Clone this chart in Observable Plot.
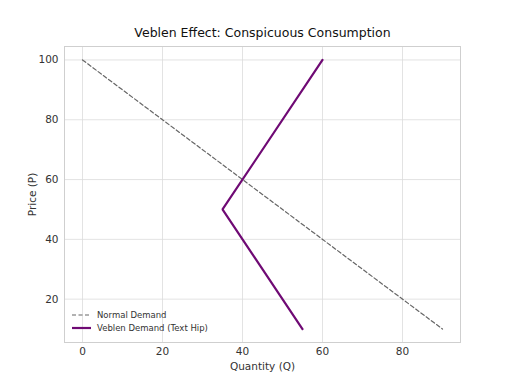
<!DOCTYPE html>
<html>
<head>
<meta charset="utf-8">
<script src="https://cdn.jsdelivr.net/npm/d3@7"></script>
<script src="https://cdn.jsdelivr.net/npm/@observablehq/plot@0.6"></script>
<style>
  html, body { margin: 0; padding: 0; background: #fff; }
  #chart { width: 512px; height: 384px; }
</style>
</head>
<body>
<div id="chart"></div>
<script>
const titleText = "Veblen Effect: Conspicuous Consumption";
const xLabel = "Quantity (Q)";
const yLabel = "Price (P)";

const normalQ = [0, 90];
const normalP = [100, 10];
const normalName = "Normal Demand";

const veblenQ = [55, 35, 60];
const veblenP = [10, 50, 100];
const veblenName = "Veblen Demand (Text Hip)";

const xTicks = [0, 20, 40, 60, 80];
const yTicks = [20, 40, 60, 80, 100];

const normal = normalQ.map((q, i) => ({q, p: normalP[i]}));
const veblen = veblenQ.map((q, i) => ({q, p: veblenP[i]}));

const font = "DejaVu Sans, sans-serif";

const plot = Plot.plot({
  width: 512,
  height: 384,
  marginLeft: 64,
  marginRight: 52,
  marginTop: 46,
  marginBottom: 42,
  style: {fontFamily: font, fontSize: "10px", color: "#333", background: "#fff"},
  x: {domain: [-4.5, 94.5]},
  y: {domain: [5.5, 104.5]},
  marks: [
    Plot.gridX(xTicks, {stroke: "#dcdcdc", strokeOpacity: 1, strokeWidth: 0.8}),
    Plot.gridY(yTicks, {stroke: "#dcdcdc", strokeOpacity: 1, strokeWidth: 0.8}),
    Plot.frame({stroke: "#cfcfcf", strokeWidth: 1}),
    Plot.axisX({ticks: xTicks, tickSize: 0, tickPadding: 5, fontSize: 10.5,
      label: xLabel, labelAnchor: "center", labelOffset: 27, labelArrow: "none"}),
    Plot.axisY({ticks: yTicks, tickSize: 0, tickPadding: 6, fontSize: 10.5,
      label: yLabel, labelAnchor: "center", labelOffset: 36, labelArrow: "none"}),
    Plot.line(normal, {x: "q", y: "p", stroke: "#666", strokeWidth: 1.2, strokeDasharray: "4,2.5"}),
    Plot.line(veblen, {x: "q", y: "p", stroke: "#6f0a74", strokeWidth: 2.2, strokeLinejoin: "miter"}),
    Plot.text([titleText], {frameAnchor: "top", dy: -10, fontSize: 12.5, fill: "#111", lineAnchor: "bottom"})
  ]
});

document.getElementById("chart").appendChild(plot);

// legend
const svg = d3.select(plot);
const legendItems = [
  {name: normalName, stroke: "#666", width: 1.2, dash: "4,2.5"},
  {name: veblenName, stroke: "#6f0a74", width: 2.2, dash: null}
];
const lg = svg.append("g").attr("transform", "translate(72,315)");
legendItems.forEach((d, i) => {
  const g = lg.append("g").attr("transform", `translate(0,${i * 13})`);
  g.append("line").attr("x1", 0).attr("x2", 19).attr("y1", 0).attr("y2", 0)
    .attr("stroke", d.stroke).attr("stroke-width", d.width)
    .attr("stroke-dasharray", d.dash);
  g.append("text").attr("x", 25).attr("y", 0).attr("dy", "0.35em")
    .attr("text-anchor", "start")
    .attr("font-size", 8.5).attr("fill", "#333").attr("font-family", font)
    .text(d.name);
});
</script>
</body>
</html>
